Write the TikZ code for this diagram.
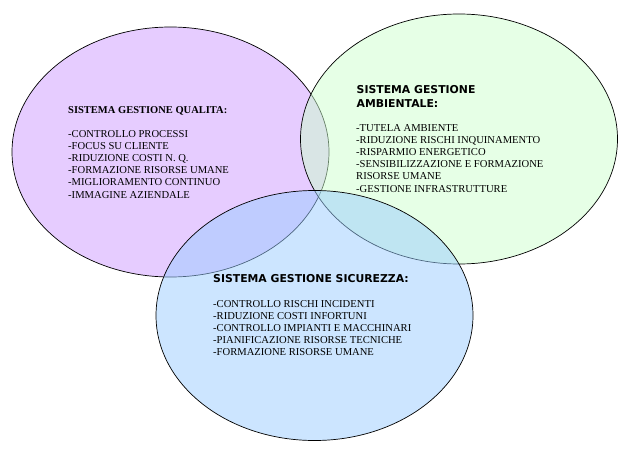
\documentclass[tikz,border=0pt]{standalone}
\usepackage{fontspec}
\setmainfont{Liberation Serif}
\newfontfamily\vsans{DejaVu Sans}
\usetikzlibrary{shapes.geometric}
\definecolor{purpleF}{RGB}{230,204,255}
\definecolor{greenF}{RGB}{205,255,205}
\definecolor{blueF}{RGB}{153,204,255}
\begin{document}
\begin{tikzpicture}[x=1pt,y=-1pt,
 zone/.style={ellipse, draw=black, line width=0.7pt, minimum width=317pt, minimum height=250pt, inner sep=0pt},
 itemtxt/.style={anchor=base west, inner sep=0pt, font=\fontsize{10.6}{12}\selectfont},
 serifhead/.style={anchor=base west, inner sep=0pt, font=\fontsize{10.5}{12}\selectfont\bfseries},
 sanshead/.style={anchor=base west, inner sep=0pt, font=\vsans\fontsize{10.85}{12}\selectfont\bfseries}]
\useasboundingbox (0,0) rectangle (626,460);
\node[zone, fill=purpleF] (qual) at (170.5,152) {};
\node[zone, fill=greenF, fill opacity=0.5, draw opacity=1] (amb) at (459,139) {};
\node[zone, fill=blueF, fill opacity=0.5, draw opacity=1] (sic) at (314.5,315.5) {};
% Qualita
\node[serifhead] (qh) at (68,113.7) {SISTEMA GESTIONE QUALITA:};
\node[itemtxt] (q1) at (68,137.0) {-CONTROLLO PROCESSI};
\node[itemtxt] (q2) at (68,149.3) {-FOCUS SU CLIENTE};
\node[itemtxt] (q3) at (68,161.4) {-RIDUZIONE COSTI N. Q.};
\node[itemtxt] (q4) at (68,173.7) {-FORMAZIONE RISORSE UMANE};
\node[itemtxt] (q5) at (68,185.9) {-MIGLIORAMENTO CONTINUO};
\node[itemtxt] (q6) at (68,198.0) {-IMMAGINE AZIENDALE};
% Ambientale
\node[sanshead] (ah1) at (356.5,93.7) {SISTEMA GESTIONE};
\node[sanshead] (ah2) at (356.5,107.0) {AMBIENTALE:};
\node[itemtxt] (a1) at (356,131.4) {-TUTELA AMBIENTE};
\node[itemtxt] (a2) at (356,143.3) {-RIDUZIONE RISCHI INQUINAMENTO};
\node[itemtxt] (a3) at (356,155.2) {-RISPARMIO ENERGETICO};
\node[itemtxt] (a4) at (356,167.8) {-SENSIBILIZZAZIONE E FORMAZIONE};
\node[itemtxt] (a5) at (356,179.8) {RISORSE UMANE};
\node[itemtxt] (a6) at (356,192.0) {-GESTIONE INFRASTRUTTURE};
% Sicurezza
\node[sanshead] (sh) at (213,282.7) {SISTEMA GESTIONE SICUREZZA:};
\node[itemtxt] (s1) at (213,307.0) {-CONTROLLO RISCHI INCIDENTI};
\node[itemtxt] (s2) at (213,319.2) {-RIDUZIONE COSTI INFORTUNI};
\node[itemtxt] (s3) at (213,331.4) {-CONTROLLO IMPIANTI E MACCHINARI};
\node[itemtxt] (s4) at (213,343.7) {-PIANIFICAZIONE RISORSE TECNICHE};
\node[itemtxt] (s5) at (213,355.9) {-FORMAZIONE RISORSE UMANE};
\end{tikzpicture}
\end{document}
